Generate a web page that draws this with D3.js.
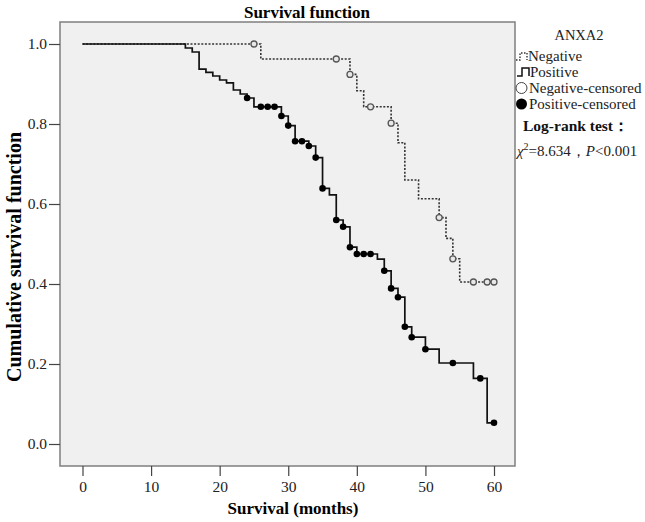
<!DOCTYPE html>
<html>
<head>
<meta charset="utf-8">
<script src="https://cdn.jsdelivr.net/npm/d3@7"></script>
<style>
  html, body { margin: 0; padding: 0; background: #fff; }
  text { font-family: "Liberation Serif", "Times New Roman", serif; }
</style>
</head>
<body>
<svg id="chart" width="645" height="522"></svg>
<script>
// ---- data ----
const xTicks = [0, 10, 20, 30, 40, 50, 60];
const yTicks = [0.0, 0.2, 0.4, 0.6, 0.8, 1.0];

const negTimes  = [0, 26, 39, 40, 41, 45, 46, 47, 49, 52, 53, 54, 55, 60];
const negValues = [1, 0.9625, 0.924, 0.883, 0.843, 0.802, 0.753, 0.66, 0.613, 0.566, 0.514, 0.463, 0.405, 0.405];
const negCensored = [25, 37, 39, 42, 45, 52, 54, 57, 59, 60];

const posTimes  = [0, 15, 16, 17, 18, 19, 20, 21, 22, 23, 24, 25, 29, 30, 31, 33, 34, 35, 36, 37, 38, 39, 40, 43, 44, 45, 46, 47, 48, 50, 52, 57, 59, 60];
const posValues = [1, 0.99, 0.98, 0.937, 0.929, 0.92, 0.91, 0.903, 0.885, 0.875, 0.865, 0.843, 0.82, 0.796, 0.757, 0.745, 0.716, 0.639, 0.623, 0.56, 0.543, 0.492, 0.475, 0.462, 0.433, 0.389, 0.367, 0.293, 0.267, 0.237, 0.2025, 0.164, 0.053, 0.053];
const posCensored = [24, 26, 27, 28, 29, 30, 31, 32, 33, 34, 35, 37, 38, 39, 40, 41, 42, 44, 45, 46, 47, 48, 50, 54, 58, 60];

const legendTitle = "ANXA2";
const legendLabels = ["Negative", "Positive", "Negative-censored", "Positive-censored"];
const statTitle = "Log-rank test：";
const chiValue = "8.634";
const pText = "<0.001";

// ---- layout ----
const svg = d3.select("#chart");
const frame = { x0: 60, x1: 515, y0: 22, y1: 466 };
const x = d3.scaleLinear().domain([0, 60]).range([82.5, 494]);
const y = d3.scaleLinear().domain([0, 1]).range([444, 44]);

svg.append("rect")
  .attr("x", frame.x0).attr("y", frame.y0)
  .attr("width", frame.x1 - frame.x0).attr("height", frame.y1 - frame.y0)
  .attr("fill", "#f0f0f0").attr("stroke", "#7f7f7f").attr("stroke-width", 1.5);

// axes
const yAxis = d3.axisLeft(y).tickValues(yTicks).tickFormat(d3.format(".1f")).tickSize(11).tickPadding(2);
const gy = svg.append("g").attr("transform", `translate(${frame.x0},0)`).call(yAxis);
gy.select(".domain").remove();
gy.selectAll(".tick line").attr("stroke", "#444").attr("stroke-width", 1.2);
gy.selectAll(".tick text").attr("font-family", "Liberation Serif").attr("font-size", 15.5).attr("fill", "#222");

const xAxis = d3.axisBottom(x).tickValues(xTicks).tickFormat(d3.format("d")).tickSize(10).tickPadding(5);
const gx = svg.append("g").attr("transform", `translate(0,${frame.y1})`).call(xAxis);
gx.select(".domain").remove();
gx.selectAll(".tick line").attr("stroke", "#444").attr("stroke-width", 1.2);
gx.selectAll(".tick text").attr("font-family", "Liberation Serif").attr("font-size", 15.5).attr("fill", "#222");

// titles
svg.append("text").attr("x", 307).attr("y", 18).attr("text-anchor", "middle")
  .attr("font-size", 17).attr("font-weight", "bold").text("Survival function");
svg.append("text").attr("x", 293).attr("y", 514).attr("text-anchor", "middle")
  .attr("font-size", 17).attr("font-weight", "bold").text("Survival (months)");
svg.append("text").attr("transform", "translate(21,257) rotate(-90)").attr("text-anchor", "middle")
  .attr("font-size", 20).attr("font-weight", "bold").text("Cumulative survival function");

// curves
const line = d3.line().x(d => x(d[0])).y(d => y(d[1])).curve(d3.curveStepAfter);
const valueAt = (times, values, t) => { let v = values[0]; for (let i = 0; i < times.length; i++) if (times[i] <= t) v = values[i]; return v; };

const negPts = negTimes.map((t, i) => [t, negValues[i]]);
const posPts = posTimes.map((t, i) => [t, posValues[i]]);

svg.append("path").attr("d", line(negPts)).attr("fill", "none")
  .attr("stroke", "#333").attr("stroke-width", 1.6).attr("stroke-dasharray", "2,1.6");
svg.append("path").attr("d", line(posPts)).attr("fill", "none")
  .attr("stroke", "#111").attr("stroke-width", 1.7);

svg.selectAll("circle.neg").data(negCensored).enter().append("circle").attr("class", "neg")
  .attr("cx", d => x(d)).attr("cy", d => y(valueAt(negTimes, negValues, d))).attr("r", 3)
  .attr("fill", "#e8e8e8").attr("stroke", "#555").attr("stroke-width", 1.3);
svg.selectAll("circle.pos").data(posCensored).enter().append("circle").attr("class", "pos")
  .attr("cx", d => x(d)).attr("cy", d => y(valueAt(posTimes, posValues, d))).attr("r", 3.3)
  .attr("fill", "#000");

// legend
const lg = svg.append("g");
lg.append("text").attr("x", 579).attr("y", 40).attr("text-anchor", "middle").attr("font-size", 14.5).attr("fill", "#222").text(legendTitle);
lg.append("path").attr("d", "M516,60H520V53H527V60").attr("fill", "none").attr("stroke", "#333").attr("stroke-width", 1.4).attr("stroke-dasharray", "1.5,1.5");
lg.append("text").attr("x", 528).attr("y", 61).attr("font-size", 15).attr("fill", "#222").text(legendLabels[0]);
lg.append("path").attr("d", "M517,76H522V68H529V76").attr("fill", "none").attr("stroke", "#111").attr("stroke-width", 1.5);
lg.append("text").attr("x", 530).attr("y", 77).attr("font-size", 15).attr("fill", "#222").text(legendLabels[1]);
lg.append("circle").attr("cx", 521.5).attr("cy", 88).attr("r", 5.5).attr("fill", "#fff").attr("stroke", "#444").attr("stroke-width", 1);
lg.append("text").attr("x", 529).attr("y", 93).attr("font-size", 15).attr("fill", "#222").text(legendLabels[2]);
lg.append("circle").attr("cx", 521.5).attr("cy", 104).attr("r", 5.5).attr("fill", "#000");
lg.append("text").attr("x", 529).attr("y", 109).attr("font-size", 15).attr("fill", "#222").text(legendLabels[3]);

lg.append("text").attr("x", 523).attr("y", 131).attr("font-size", 15.5).attr("font-weight", "bold").attr("fill", "#111").text(statTitle);
const st = lg.append("text").attr("x", 517).attr("y", 156).attr("font-size", 15).attr("fill", "#222");
st.append("tspan").attr("font-style", "italic").text("χ");
st.append("tspan").attr("font-size", 10).attr("dy", -6).text("2");
st.append("tspan").attr("dy", 6).text("=" + chiValue + "，");
st.append("tspan").attr("font-style", "italic").text("P");
st.append("tspan").text(pText);
</script>
</body>
</html>
